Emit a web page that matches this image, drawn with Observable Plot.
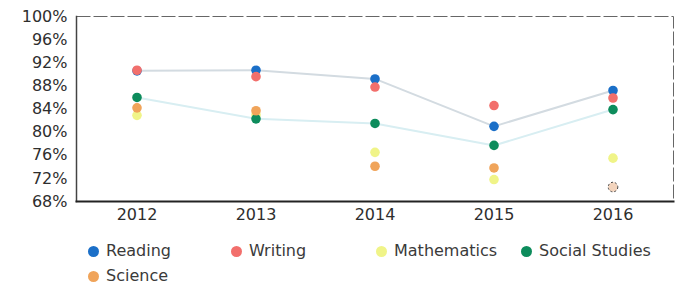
<!DOCTYPE html>
<html>
<head>
<meta charset="utf-8">
<script src="https://cdn.jsdelivr.net/npm/d3@7"></script>
<script src="https://cdn.jsdelivr.net/npm/@observablehq/plot@0.6"></script>
<style>
  html, body { margin: 0; padding: 0; background: #fff; }
  #wrap { position: relative; width: 675px; height: 292px; font-family: "DejaVu Sans", Verdana, sans-serif; color: #333; }
  .leg { position: absolute; font-size: 16px; line-height: 18px; white-space: nowrap; color: #3a3a3a; }
  .leg span.sw { display: inline-block; width: 11px; height: 11px; border-radius: 50%; margin-right: 7px; vertical-align: -1px; }
</style>
</head>
<body>
<div id="wrap"><div id="chart"></div><div id="legend"></div></div>
<script>
const years = ["2012", "2013", "2014", "2015", "2016"];
const subjects = ["Reading", "Writing", "Mathematics", "Social Studies", "Science"];
const reading = [90.6, 90.7, 89.2, 81.0, 87.2];
const writing = [90.7, 89.6, 87.8, 84.6, 85.9];
const mathematics = [82.9, 83.0, 76.5, 71.8, 75.5];
const socialStudies = [86.0, 82.3, 81.5, 77.7, 83.9];
const science = [84.2, 83.7, 74.1, 73.8, 70.5];
const yTicks = [68, 72, 76, 80, 84, 88, 92, 96, 100];
const colors = ["#1b6fc8", "#f26f6c", "#f0f488", "#0d8c5c", "#f0a45a"];

const series = [reading, writing, mathematics, socialStudies, science];
const rows = [];
subjects.forEach((s, i) => years.forEach((y, j) => rows.push({subject: s, year: y, value: series[i][j]})));
const lineRows = rows.filter(d => d.subject === "Reading" || d.subject === "Social Studies");
const lastScience = rows.filter(d => d.subject === "Science" && d.year === "2016");
const dotRows = rows.filter(d => !(d.subject === "Science" && d.year === "2016"));

const chart = Plot.plot({
  width: 675,
  height: 232,
  marginTop: 16,
  marginBottom: 31,
  marginLeft: 76,
  marginRight: 2,
  style: {fontFamily: "DejaVu Sans, Verdana, sans-serif", fontSize: "16px", color: "#333", background: "white"},
  x: {type: "band", domain: years, padding: 0, label: null},
  y: {domain: [68, 100], label: null},
  color: {domain: subjects, range: colors},
  marks: [
    Plot.frame({stroke: "#666", strokeDasharray: "14,3"}),
    Plot.frame({anchor: "left", stroke: "#444", strokeWidth: 1.5}),
    Plot.frame({anchor: "bottom", stroke: "#222", strokeWidth: 2}),
    Plot.axisY({ticks: yTicks, tickSize: 0, tickPadding: 9, tickFormat: d => d + "%", fill: "#2e2e2e"}),
    Plot.axisX({tickSize: 0, tickPadding: 7, fill: "#2e2e2e"}),
    Plot.line(lineRows, {x: "year", y: "value", z: "subject", stroke: d => d.subject === "Reading" ? "#d3dbe1" : "#d8eef2", strokeWidth: 2}),
    Plot.dot(dotRows, {x: "year", y: "value", fill: "subject", r: 4.8}),
    Plot.dot(lastScience, {x: "year", y: "value", fill: "#f3d4bd", stroke: "#444", strokeDasharray: "2,2", strokeWidth: 1, r: 4.8})
  ]
});
document.getElementById("chart").appendChild(chart);

const legendPos = [
  {x: 88, y: 242}, {x: 231, y: 242}, {x: 376, y: 242}, {x: 521, y: 242}, {x: 88, y: 267}
];
const legend = document.getElementById("legend");
subjects.forEach((s, i) => {
  const div = document.createElement("div");
  div.className = "leg";
  div.style.left = legendPos[i].x + "px";
  div.style.top = legendPos[i].y + "px";
  div.innerHTML = `<span class="sw" style="background:${colors[i]}"></span>${s}`;
  legend.appendChild(div);
});
</script>
</body>
</html>
